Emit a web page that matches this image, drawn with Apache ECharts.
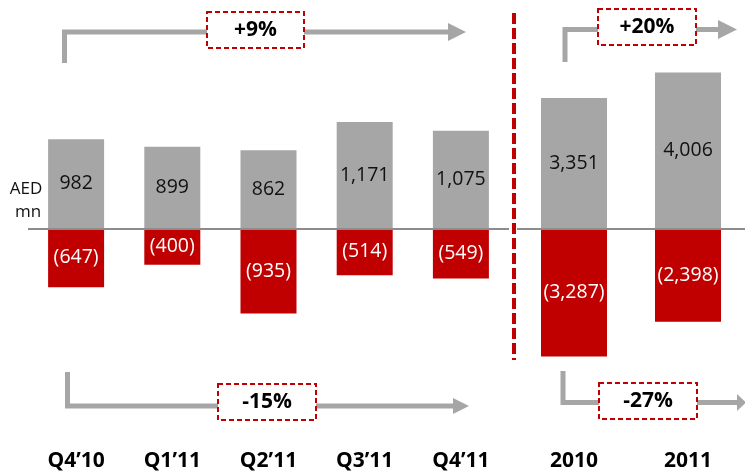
<!DOCTYPE html>
<html>
<head>
<meta charset="utf-8">
<script src="https://cdn.jsdelivr.net/npm/echarts@6/dist/echarts.min.js"></script>
<style>
  html, body { margin: 0; padding: 0; background: #fff; }
  #chart { width: 745px; height: 472px; }
</style>
</head>
<body>
<div id="chart"></div>
<script>
const quarters = ["Q4’10", "Q1’11", "Q2’11", "Q3’11", "Q4’11"];
const quarterIncome = [982, 899, 862, 1171, 1075];
const quarterCost = [-647, -400, -935, -514, -549];

const years = ["2010", "2011"];
const yearIncome = [3351, 4006];
const yearCost = [-3287, -2398];

const growthLabels = ["+9%", "+20%", "-15%", "-27%"];

const GREY = "#a6a6a6";
const RED = "#c00000";
const FONT = "'Open Sans', 'Noto Sans', sans-serif";

const fmt = (v) => {
  const s = Math.abs(v).toLocaleString("en-US");
  return v < 0 ? "(" + s + ")" : s;
};

function barSeries(idx, data, color, width, labelColor, withZero) {
  const s = {
    type: "bar",
    xAxisIndex: idx,
    yAxisIndex: idx,
    data: data,
    barWidth: width,
    barGap: "-100%",
    itemStyle: { color: color },
    label: {
      show: true,
      position: "inside",
      fontFamily: FONT,
      fontSize: 19.5,
      color: labelColor,
      formatter: (p) => fmt(p.value),
    },
    silent: true,
  };
  if (withZero) {
    s.markLine = {
      silent: true,
      symbol: "none",
      label: { show: false },
      lineStyle: { color: "#8c8c8c", width: 2, type: "solid" },
      data: [{ yAxis: 0 }],
    };
  }
  return s;
}

function catAxis(idx, cats) {
  return {
    type: "category",
    gridIndex: idx,
    data: cats,
    axisLine: { show: false },
    axisTick: { show: false },
    axisLabel: {
      margin: 3,
      fontFamily: FONT,
      fontSize: 21,
      fontWeight: "bold",
      color: "#000",
    },
  };
}

function valAxis(idx, lim) {
  return {
    type: "value",
    gridIndex: idx,
    min: -lim,
    max: lim,
    show: false,
  };
}

// growth arrows: bent grey line with arrow head, dashed red box on top
function arrow(pts, head, box, text) {
  return [
    {
      type: "polyline",
      shape: { points: pts },
      style: { stroke: GREY, lineWidth: 5, fill: null },
    },
    { type: "polygon", shape: { points: head }, style: { fill: GREY } },
    {
      type: "rect",
      shape: { x: box[0], y: box[1], width: box[2], height: box[3] },
      style: { fill: "#fff", stroke: RED, lineWidth: 2, lineDash: [5, 3] },
    },
    {
      type: "text",
      x: box[0] + box[2] / 2,
      y: box[1] + box[3] / 2,
      style: {
        text: text,
        font: "bold 21px " + FONT,
        fill: "#000",
        align: "center",
        verticalAlign: "middle",
      },
    },
  ];
}

const chart = echarts.init(document.getElementById("chart"));
chart.setOption({
  animation: false,
  backgroundColor: "#fff",
  grid: [
    { left: 28, width: 481, top: 9, height: 440 },
    { left: 517, width: 237, top: 9, height: 440 },
  ],
  xAxis: [catAxis(0, quarters), catAxis(1, years)],
  yAxis: [valAxis(0, 2415), valAxis(1, 5640)],
  series: [
    barSeries(0, quarterIncome, GREY, 56, "#111", true),
    barSeries(0, quarterCost, RED, 56, "#fff", false),
    barSeries(1, yearIncome, GREY, 66, "#111", true),
    barSeries(1, yearCost, RED, 66, "#fff", false),
  ],
  graphic: [
    {
      type: "line",
      shape: { x1: 514, y1: 13, x2: 514, y2: 360 },
      style: { stroke: RED, lineWidth: 4, lineDash: [11, 4] },
    },
    {
      type: "text",
      x: 26,
      y: 189,
      style: { text: "AED", font: "17px " + FONT, fill: "#111", align: "center", verticalAlign: "middle" },
    },
    {
      type: "text",
      x: 28,
      y: 212,
      style: { text: "mn", font: "17px " + FONT, fill: "#111", align: "center", verticalAlign: "middle" },
    },
    ...arrow([[64.5, 63], [64.5, 32], [450, 32]], [[448, 23], [466, 32], [448, 41]], [207, 12, 97, 36], growthLabels[0]),
    ...arrow([[565, 62], [565, 29.5], [720, 29.5]], [[718, 20], [737, 29.5], [718, 39]], [598, 9, 98, 36], growthLabels[1]),
    ...arrow([[67.5, 372], [67.5, 406], [455, 406]], [[453, 398], [469, 406], [453, 414]], [218, 384, 98, 36], growthLabels[2]),
    ...arrow([[563, 371], [563, 402.5], [740, 402.5]], [[737, 394], [746, 402.5], [737, 411]], [599, 383, 98, 36], growthLabels[3]),
  ],
});
</script>
</body>
</html>
